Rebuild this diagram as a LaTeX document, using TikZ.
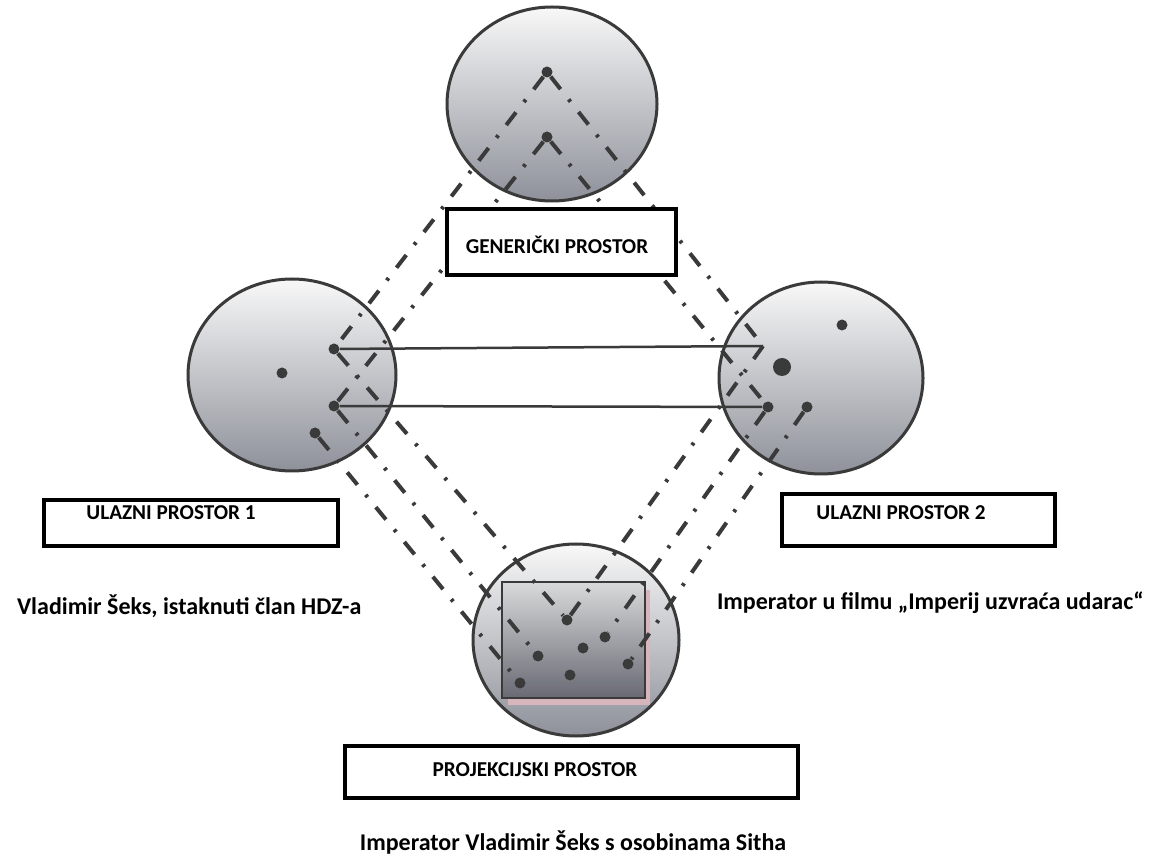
\documentclass[tikz,border=0pt]{standalone}
\usepackage{fontspec}
\setmainfont{Carlito}
\usepackage{tikz}
\usetikzlibrary{shapes.geometric}

\definecolor{rim}{RGB}{58,58,58}
\definecolor{sphtop}{RGB}{248,248,248}
\definecolor{sphmid}{RGB}{224,225,226}
\definecolor{sphbot}{RGB}{142,145,154}
\definecolor{recttop}{RGB}{216,218,218}
\definecolor{rectbot}{RGB}{104,105,115}
\definecolor{shadowpink}{RGB}{214,182,188}

\begin{document}
\begin{tikzpicture}[x=0.5pt, y=-0.5pt,
  space/.style={ellipse, draw=rim, line width=1.5pt, top color=sphtop, middle color=sphmid, bottom color=sphbot, inner sep=0pt},
  pt/.style={circle, fill=rim, inner sep=0pt, minimum size=5.5pt},
  bigpt/.style={pt, minimum size=9pt},
  map/.style={rim, line width=2pt, dash pattern=on 8pt off 6.5pt on 1.5pt off 6.5pt},
  link/.style={rim, line width=1.25pt},
  frame/.style={draw=black, line width=2pt, fill=white, inner sep=0pt},
  caption/.style={font=\bfseries\fontsize{10.6}{12}\selectfont},
  note/.style={font=\bfseries\fontsize{12}{14}\selectfont}]
\fill[white] (0,0) rectangle (1161,860);
\useasboundingbox (0,0) rectangle (1161,860);

\node[space, minimum width=105pt, minimum height=97pt] (gen) at (552,104) {};
\node[space, minimum width=104pt, minimum height=96pt] (in1) at (292,375) {};
\node[space, minimum width=102pt, minimum height=96pt] (in2) at (821,378) {};
\node[space, minimum width=103pt, minimum height=96pt] (blend) at (576,640) {};

\fill[shadowpink] (508,590) rectangle (650,705);
\node[draw=rim, line width=1pt, top color=recttop, bottom color=rectbot,
      minimum width=71.5pt, minimum height=58pt, inner sep=0pt] (blendbox) at (573.5,640) {};

\node[pt] (t1) at (547,72) {};
\node[pt] (t2) at (547,137) {};

\node[pt] (l0) at (282,373) {};
\node[pt] (l1) at (334,349) {};
\node[pt] (l2) at (334,406) {};
\node[pt] (l3) at (315,433) {};

\node[pt] (r0) at (842,325) {};
\node[bigpt] (rb) at (782,367) {};
\coordinate (r1) at (763,346);
\node[pt] (r2) at (768,407) {};
\node[pt] (r3) at (807,407) {};

\node[pt] (b1) at (567,620) {};
\node[pt] (b2) at (605,637) {};
\node[pt] (b3) at (583,648) {};
\node[pt] (b4) at (538,656) {};
\node[pt] (b5) at (628,664) {};
\node[pt] (b6) at (570,675) {};
\node[pt] (b7) at (520,683) {};

\draw[map] (t1) -- (l1);
\draw[map] (t1) -- (r1);
\draw[map] (t2) -- (l2);
\draw[map] (t2) -- (r2);
\draw[map] (l1) -- (b1);
\draw[map] (l2) -- (b4);
\draw[map] (l3) -- (b7);
\draw[map] (r1) -- (b1);
\draw[map] (r2) -- (b2);
\draw[map] (r3) -- (b5);

\draw[link] (l1) -- (r1);
\draw[link] (l2) -- (r2);

\node[frame, minimum width=114.5pt, minimum height=33pt] (genframe) at (561.5,242) {};
\node[caption] (genlabel) at (557,245) {GENERIČKI PROSTOR};

\node[frame, minimum width=147pt, minimum height=23pt] (in1frame) at (191,523) {};
\node[caption] (in1label) at (171,513) {ULAZNI PROSTOR 1};

\node[frame, minimum width=136.5pt, minimum height=26pt] (in2frame) at (918.5,520) {};
\node[caption] (in2label) at (901,513) {ULAZNI PROSTOR 2};

\node[frame, minimum width=226.5pt, minimum height=26pt] (blendframe) at (571.5,772) {};
\node[caption] (blendlabel) at (535,770) {PROJEKCIJSKI PROSTOR};

\node[note, anchor=west] (in1note) at (10,606) {Vladimir Šeks, istaknuti član HDZ-a};
\node[note, anchor=west] (in2note) at (710,603) {Imperator u filmu „Imperij uzvraća udarac“};
\node[note] (blendnote) at (573,843) {Imperator Vladimir Šeks s osobinama Sitha};
\end{tikzpicture}
\end{document}
